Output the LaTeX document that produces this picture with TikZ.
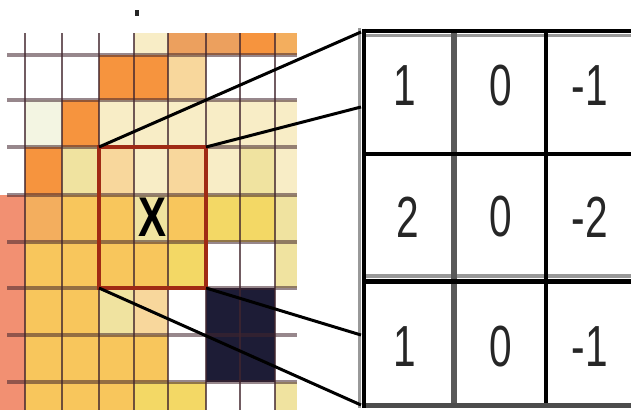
\documentclass[tikz,border=0pt]{standalone}
\usepackage{fontspec}
\setmainfont{Liberation Sans}
\usepackage{graphicx}
\definecolor{cW}{HTML}{FFFFFF}
\definecolor{cE}{HTML}{F3F5E2}
\definecolor{cO}{HTML}{F6943E}
\definecolor{cT}{HTML}{ECA05E}
\definecolor{cL}{HTML}{F3AE5E}
\definecolor{cP}{HTML}{F8D79C}
\definecolor{cC}{HTML}{F8EDC6}
\definecolor{cV}{HTML}{F0E3A0}
\definecolor{cY}{HTML}{F8C65C}
\definecolor{cG}{HTML}{F3D865}
\definecolor{cS}{HTML}{F29072}
\definecolor{cN}{HTML}{1D1C36}
\definecolor{winred}{HTML}{A02A14}
\definecolor{gridc}{HTML}{42262E}
\tikzset{
  vline/.style={draw=gridc,line width=2.6pt,draw opacity=0.75},
  hline/.style={draw=gridc,line width=3.4pt,draw opacity=0.55},
  window/.style={draw=winred,line width=4pt,minimum width=107pt,minimum height=141pt,inner sep=0pt,outer sep=0pt,
    font=\fontsize{56}{56}\selectfont\bfseries},
  kcell/.style={inner sep=0pt,text=black!85,font=\fontsize{58}{58}\selectfont},
  link/.style={draw=black,line width=3pt}
}

\begin{document}
\begin{tikzpicture}[x=1pt,y=-1pt]
  \useasboundingbox (0,0) rectangle (631,410);
  \def\xs{{0,25,62,99,134,168,206,240,275,297}}
  \def\ys{{33,55,100,147,195,242,288,335,382,410}}
  % pixels of the image
  \foreach \cols [count=\row from 0] in {
    {cW,cW,cW,cW,cC,cT,cT,cO,cL},
    {cW,cW,cW,cO,cO,cP,cW,cW,cW},
    {cW,cE,cO,cC,cC,cC,cC,cC,cC},
    {cW,cO,cV,cP,cC,cP,cC,cV,cC},
    {cS,cL,cY,cY,cV,cY,cG,cG,cV},
    {cS,cY,cY,cY,cY,cG,cW,cW,cV},
    {cS,cY,cY,cV,cP,cW,cN,cN,cW},
    {cS,cY,cY,cY,cY,cW,cN,cN,cW},
    {cS,cY,cY,cY,cG,cG,cW,cW,cV}}{
    \foreach \clr [count=\col from 0] in \cols {
      \pgfmathsetmacro\xa{\xs[\col]}
      \pgfmathsetmacro\xb{\xs[\col+1]}
      \pgfmathsetmacro\ya{\ys[\row]}
      \pgfmathsetmacro\yb{\ys[\row+1]}
      \fill[\clr] (\xa,\ya) rectangle (\xb,\yb);
    }
  }
  \foreach \x in {25,62,99,134,168,206,240,275}
    \draw[vline] (\x,33) -- (\x,410);
  \foreach \y in {55,100,147,195,242,288,335,382}
    \draw[hline] (7,\y) -- (297,\y);
  \fill[black!85] (135,10) rectangle (139,16);

  \node[window] (win) at (152.5,217.5) {\scalebox{0.75}[1]{X}};

  % kernel
  \node[kcell] (k11) at (405,86) {\scalebox{0.7}[1]{1}};
  \node[kcell] (k12) at (501,86) {\scalebox{0.7}[1]{0}};
  \node[kcell] (k13) at (590,86) {\scalebox{0.7}[1]{-1}};
  \node[kcell] (k21) at (408,217) {\scalebox{0.7}[1]{2}};
  \node[kcell] (k22) at (501,217) {\scalebox{0.7}[1]{0}};
  \node[kcell] (k23) at (590,217) {\scalebox{0.7}[1]{-2}};
  \node[kcell] (k31) at (405,347) {\scalebox{0.7}[1]{1}};
  \node[kcell] (k32) at (501,347) {\scalebox{0.7}[1]{0}};
  \node[kcell] (k33) at (590,347) {\scalebox{0.7}[1]{-1}};
  \draw[black!40,line width=3pt] (359.5,28) -- (359.5,408);
  \draw[black!40,line width=3pt] (362,35) -- (640,35);
  \draw[black!40,line width=4pt] (362,275.5) -- (640,275.5);
  \draw[black!65,line width=6pt] (454,30) -- (454,408);
  \draw[black,line width=4pt] (546,30) -- (546,408);
  \draw[black,line width=4pt] (362,30.5) -- (640,30.5);
  \draw[black,line width=4pt] (362,154) -- (640,154);
  \draw[black,line width=5pt] (362,281.5) -- (640,281.5);
  \draw[black!70,line width=5pt] (362,405.5) -- (640,405.5);
  \draw[black,line width=4pt] (363.5,28.5) -- (363.5,408);

  \coordinate (tl) at (361,32);
  \coordinate (t1) at (361,107);
  \coordinate (t2) at (361,335);
  \coordinate (bl) at (361,405);
  \draw[link] (win.north west) -- (tl);
  \draw[link] (win.north east) -- (t1);
  \draw[link] (win.south east) -- (t2);
  \draw[link] (win.south west) -- (bl);
\end{tikzpicture}
\end{document}
